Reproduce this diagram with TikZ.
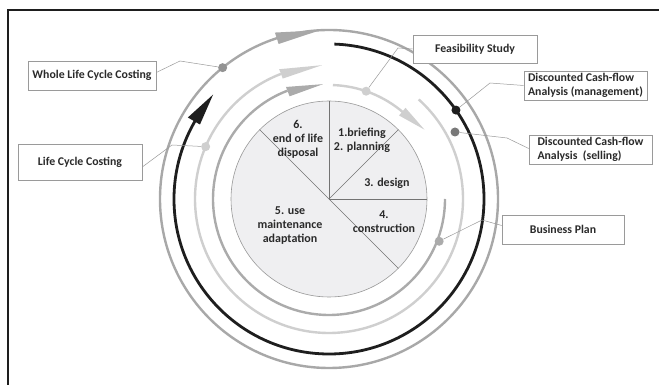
\documentclass[tikz,border=0pt]{standalone}
\usepackage{fontspec}
\setmainfont{Carlito}
\definecolor{outerg}{HTML}{A8A8A8}
\definecolor{lightg}{HTML}{CFCFCF}
\definecolor{midg}{HTML}{ABABAB}
\definecolor{blackring}{HTML}{1E1E1E}
\definecolor{piefill}{HTML}{EFEFF1}
\definecolor{txt}{HTML}{2A2A2A}
\definecolor{conn}{HTML}{9A9A9A}
\begin{document}
\begin{tikzpicture}[x=1pt,y=1pt,
  ring/.style={line width=2.4pt},
  box/.style={draw=conn, line width=0.6pt, fill=white, text=txt, font=\bfseries\fontsize{11.8}{14}\selectfont, inner sep=0pt},
  conline/.style={draw=conn, line width=0.5pt},
  dot/.style={circle, inner sep=0pt, minimum size=9pt},
  pietext/.style={align=center, text=txt, font=\bfseries\fontsize{12}{14}\selectfont}]
\useasboundingbox (0,0) rectangle (659,385);
\fill[white] (0,0) rectangle (659,385);
% frame
\draw[blackring, line width=2pt] (8,0) -- (8,375) -- (659,375);
\begin{scope}[shift={(329,186)}]
  \coordinate (c) at (0,0);
  % pie
  \filldraw[fill=piefill, draw=gray!80, line width=0.6pt] (c) circle[radius=98];
  \foreach \a in {90,45,0,-45,135}
    \draw[gray!90!black, line width=0.5pt] (c) -- (\a:98);
  \node[pietext] (s6) at (-31,60) {6.\\end of life\\disposal};
  \node[pietext] (s1) at (33,59) {1.briefing\\2. planning};
  \node[pietext] (s3) at (58,16) {3. design};
  \node[pietext] (s4) at (55,-23) {4.\\construction};
  \node[pietext] (s5) at (-39,-27) {5. use\\maintenance\\adaptation};
  % outer ring
  \draw[ring, outerg] (c) circle[radius=169];
  \fill[outerg] (93:169) -- (108:175) -- (108:163) -- cycle;
  % black ring
  \draw[blackring, line width=2.8pt] (88:155) arc[start angle=88, end angle=-211, radius=155];
  \fill[blackring] (138:156) -- (150:163) -- (150:149) -- cycle;
  % light ring
  \draw[ring, lightg] (48:134) arc[start angle=48, end angle=-249, radius=134];
  \fill[lightg] (93:134) -- (111:139) -- (111:129) -- cycle;
  % mid ring
  \draw[ring, midg] (0:116) arc[start angle=0, end angle=-249, radius=116];
  \fill[midg] (93:115) -- (111:120) -- (111:110) -- cycle;
  % feasibility arc
  \draw[ring, lightg] (88:114) arc[start angle=88, end angle=49, radius=114];
  \fill[lightg] (36:118) -- (50:119) -- (50:109) -- cycle;
  % dot positions
  \coordinate (pW) at (129:169);
  \coordinate (pL) at (157:134);
  \coordinate (pF) at (71:114);
  \coordinate (pM) at (35:155);
  \coordinate (pS) at (126,67);
  \coordinate (pB) at (-21:118);
\end{scope}
% boxes
\node[box, minimum width=128pt, minimum height=29pt] (bW) at (92,309.5) {Whole Life Cycle Costing};
\node[box, minimum width=124pt, minimum height=36pt] (bL) at (80,223) {Life Cycle Costing};
\node[box, minimum width=124pt, minimum height=28pt] (bF) at (475,336) {Feasibility Study\hspace{10pt}};
\node[box, minimum width=123pt, minimum height=29pt, align=left] (bM) at (585.5,299.5) {Discounted Cash-flow\\Analysis (management)};
\node[box, minimum width=123pt, minimum height=29pt, align=left] (bS) at (590.5,235.5) {Discounted Cash-flow\\Analysis\ \ (selling)};
\node[box, minimum width=122pt, minimum height=29pt] (bB) at (563,155.5) {Business Plan};
% connector bends
\coordinate (kW) at (180,324);
\coordinate (kL) at (172,240);
\coordinate (kF) at (398,337);
\coordinate (kM) at (490,302);
\coordinate (kS) at (507,247);
\coordinate (kB) at (482,165);
% dots
\node[dot, fill=gray!85] (dW) at (pW) {};
\node[dot, fill=lightg] (dL) at (pL) {};
\node[dot, fill=lightg] (dF) at (pF) {};
\node[dot, fill=blackring] (dM) at (pM) {};
\node[dot, fill=gray!95!black] (dS) at (pS) {};
\node[dot, fill=midg] (dB) at (pB) {};
% connectors
\draw[conline] ([yshift=3pt]bW.east) -- (kW) -- (dW);
\draw[conline] ([yshift=-5pt]bL.east) -- (kL) -- (dL);
\draw[conline] (bF.west) -- (kF) -- (dF);
\draw[conline] (bM.west) -- (kM) -- (dM);
\draw[conline] ([yshift=1pt]bS.west) -- (kS) -- (dS);
\draw[conline] ([yshift=4pt]bB.west) -- (kB) -- (dB);
\end{tikzpicture}
\end{document}
